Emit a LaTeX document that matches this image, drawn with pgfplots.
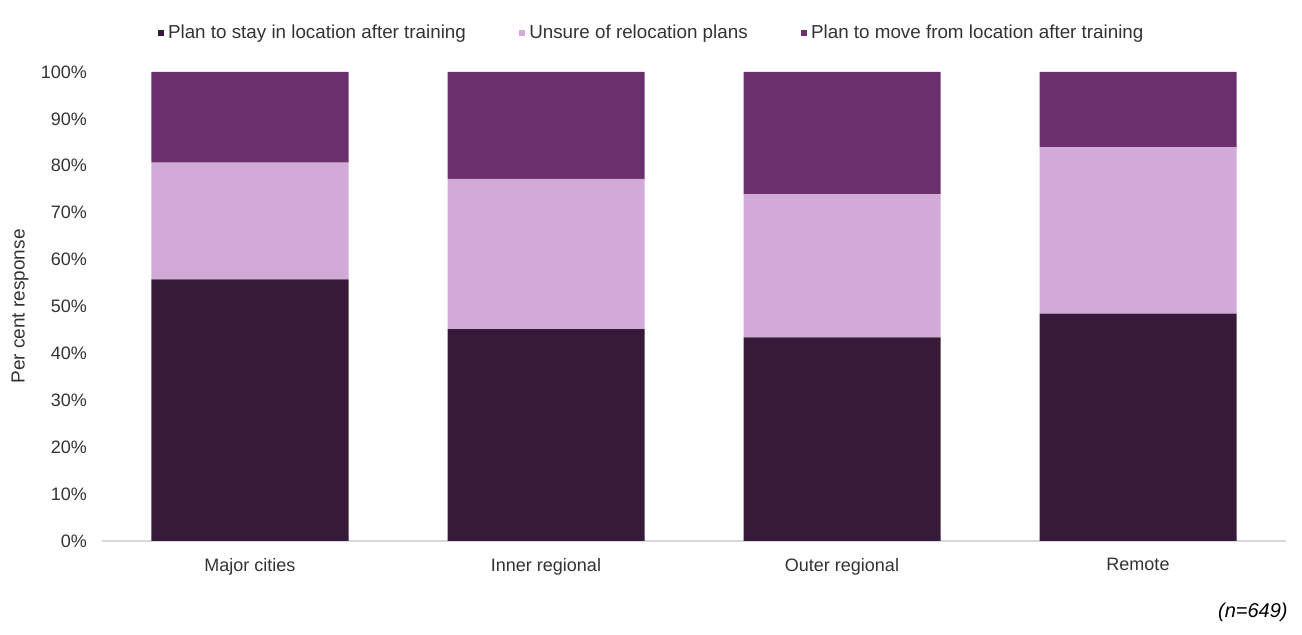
\documentclass[border=0pt]{standalone}
\usepackage{fontspec}
\setmainfont{Liberation Sans}
\usepackage{pgfplots}
\pgfplotsset{compat=1.18}
\definecolor{cdark}{HTML}{361A38}
\definecolor{clight}{HTML}{D2AAD7}
\definecolor{cpurp}{HTML}{6B306D}
\definecolor{ctext}{HTML}{333333}
\begin{document}
\begin{tikzpicture}
\useasboundingbox (-51pt,-47pt) rectangle (600pt,270.5pt);
\begin{axis}[
  at={(0,0)}, anchor=south west,
  scale only axis, width=592pt, height=234.5pt,
  ybar stacked, bar width=98.5pt,
  xmin=-0.5, xmax=3.5, ymin=0, ymax=100,
  xtick=data, xticklabels={Major cities,Inner regional,Outer regional,Remote},
  ytick={0,10,...,100}, yticklabel={\pgfmathprintnumber{\tick}\%},
  /pgf/number format/assume math mode=true,
  major tick length=0pt,
  separate axis lines,
  axis x line*=bottom, axis y line*=left,
  x axis line style={draw=black!15, line width=0.8pt, -},
  y axis line style={draw=none},
  tick label style={font=\fontsize{9}{10}\selectfont, text=ctext},
  yticklabel style={xshift=-4pt},
  xticklabel style={yshift=-5pt},
  ylabel={Per cent response},
  ylabel style={at={(rel axis cs:0,0.5)}, anchor=center, yshift=41pt,
    font=\fontsize{9.5}{11}\selectfont, text=ctext},
  legend columns=3,
  legend style={draw=none, fill=none, at={(rel axis cs:0.465,1)}, anchor=center, yshift=19.5pt,
    font=\fontsize{9.4}{11}\selectfont, text=ctext,
    /tikz/every even column/.append style={column sep=24.5pt}},
  legend image code/.code={\fill[#1,draw=none] (0pt,-1.6pt) rectangle (3.2pt,1.6pt);},
  clip=false,
]
\addplot[fill=cdark, draw=none] coordinates {(0,55.8) (1,45.2) (2,43.4) (3,48.5)};
\addplot[fill=clight, draw=none] coordinates {(0,24.9) (1,32.0) (2,30.5) (3,35.4)};
\addplot[fill=cpurp, draw=none] coordinates {(0,19.3) (1,22.8) (2,26.1) (3,16.1)};
\legend{Plan to stay in location after training, Unsure of relocation plans, Plan to move from location after training}
\end{axis}
\node[anchor=east, inner sep=0pt, font=\fontsize{10}{12}\selectfont\itshape, text=black] at (593pt,-35.5pt) {(n=649)};
\end{tikzpicture}
\end{document}
